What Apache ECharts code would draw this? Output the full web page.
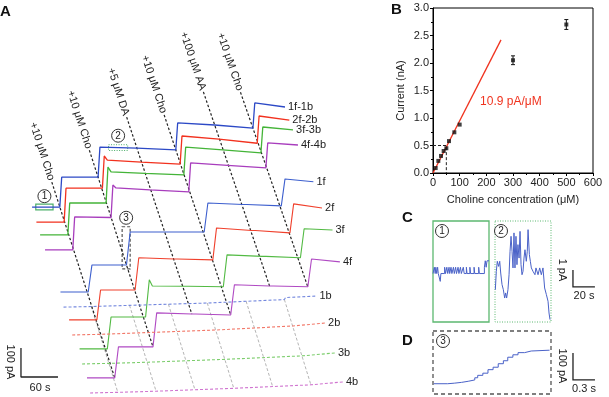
<!DOCTYPE html>
<html>
<head>
<meta charset="utf-8">
<script src="https://cdn.jsdelivr.net/npm/echarts@6.0.0/dist/echarts.min.js"></script>
<style>
html, body { margin: 0; padding: 0; background: #fff; }
#chart { width: 609px; height: 397px; }
</style>
</head>
<body>
<div id="chart"></div>
<script>
// ---------- panel A : waterfall of amperometric traces ----------
const addTimes = [0, 62, 125, 188, 251, 313] // s, relative to first addition
const addLabels = ['+10 μM Cho', '+10 μM Cho', '+5 μM DA', '+10 μM Cho', '+100 μM AA', '+10 μM Cho']
const traceStart = -45
const traceEnd = 365
const traceNames = ['1f-1b', '2f-2b', '3f-3b', '4f-4b', '1f', '2f', '3f', '4f', '1b', '2b', '3b', '4b']
// waterfall offsets (s, pA)
const traceOffsetX = [97, 104, 110, 118, 143, 157, 174, 186, 148, 162, 178, 191]
const traceOffsetY = [655, 603, 559, 507, 362, 266, 166, 66, 310, 214, 114, 14]
// current (pA over baseline) at start / end of each segment between additions
const traceLevels = [
  [[0, 0], [103, 103], [207, 203], [203, 197], [290, 283], [283, 272], [359, 345]],
  [[0, 0], [117, 117], [214, 207], [207, 200], [297, 286], [286, 272], [366, 352]],
  [[0, 0], [110, 110], [217, 212], [212, 207], [303, 293], [293, 283], [372, 362]],
  [[0, 0], [114, 112], [214, 207], [207, 200], [300, 292], [292, 283], [369, 362]],
  [[0, 0], [93, 93], [207, 207], [207, 207], [307, 302], [302, 297], [390, 380]],
  [[0, 0], [103, 103], [214, 210], [210, 207], [317, 308], [308, 300], [400, 386]],
  [[0, 0], [110, 110], [217, 216], [216, 214], [324, 319], [319, 314], [414, 410]],
  [[0, 0], [107, 107], [224, 220], [220, 217], [321, 317], [317, 314], [410, 400]],
  [[0, 2], [4, 6], [8, 10], [12, 14], [17, 20], [23, 26], [33, 38]],
  [[0, 2], [5, 7], [9, 12], [14, 17], [20, 24], [27, 31], [36, 41]],
  [[0, 2], [4, 6], [8, 11], [13, 16], [19, 22], [25, 28], [34, 38]],
  [[0, 2], [4, 6], [8, 11], [13, 16], [19, 22], [25, 28], [34, 38]]
]
// overshoot right after the second choline addition
const traceSpikes = [null, 228, 234, 224, null, null, 238, null, null, null, null, null]
const scaleBarA = [60, 100] // s, pA

// ---------- panel B : calibration ----------
const cholineConc = [10, 20, 30, 40, 50, 60, 80, 100, 300, 500]
const cholineCurrent = [0.09, 0.22, 0.31, 0.40, 0.45, 0.58, 0.74, 0.88, 2.05, 2.70]
const currentErr = [0, 0, 0, 0, 0, 0, 0, 0, 0.08, 0.09]
const fitConc = [0, 255]
const fitCurrent = [0, 2.42]

// ---------- panel C : zoomed baseline noise ----------
const c1Time = [0, 1.2, 2.0, 2.6, 3.4, 4.2, 4.8, 6.6, 7.2, 10.6, 11.4, 12.6, 13.4, 14.6, 15.2, 16.4, 17.2, 18.6, 19.4, 20.6, 21.4, 22.8, 23.6, 25.0, 25.8, 27.6, 28.4, 30.4, 31.0, 33.6, 34.2, 37.4, 38.0, 41.6, 42.2, 46.8, 47.6, 48.4, 49.2, 51]
const c1Current = [2.85, 3.22, 2.85, 3.22, 2.85, 3.22, 2.85, 2.39, 2.85, 3.22, 2.85, 3.22, 2.85, 3.22, 2.85, 3.22, 2.85, 3.22, 2.85, 3.22, 2.85, 3.22, 2.85, 3.22, 2.85, 3.22, 2.85, 3.22, 2.85, 3.22, 2.85, 3.22, 2.85, 3.22, 2.85, 3.22, 3.60, 3.22, 3.60, 3.60]
const c2Time = [0.3, 1.2, 2.1, 3.3, 4.3, 5.2, 6.4, 7.6, 8.8, 9.7, 10.6, 11.8, 12.8, 13.7, 14.6, 15.5, 16.4, 17.3, 18.2, 19.1, 20.0, 20.9, 21.9, 22.8, 23.7, 24.6, 25.5, 26.4, 27.3, 28.5, 29.4, 30.1, 31.3, 32.2, 33.1, 34.6, 35.5, 36.4, 37.3, 39.2, 40.7, 42.2, 43.7, 45.2, 46.8, 48.3, 49.2, 50.1]
const c2Current = [1.90, 2.98, 3.57, 3.27, 3.57, 2.88, 2.20, 1.90, 1.41, 1.71, 1.41, 1.90, 2.78, 4.16, 5.04, 4.16, 3.18, 5.24, 3.18, 5.04, 3.37, 4.55, 3.76, 5.33, 3.37, 2.78, 2.98, 3.76, 4.25, 3.57, 4.16, 5.43, 3.96, 3.57, 3.18, 2.98, 3.08, 2.78, 3.18, 2.78, 3.18, 2.78, 3.18, 2.00, 1.61, 1.22, 0.53, 0.14]
const scaleBarC = [20, 1] // s, pA

// ---------- panel D : zoomed step ----------
const dTime = [0.01, 0.20, 0.29, 0.39, 0.48, 0.57, 0.61, 0.68, 0.75, 0.82, 0.89, 0.96, 1.02, 1.09, 1.16, 1.25, 1.34, 1.59]
const dCurrent = [38, 40, 43, 47, 52, 60, 69, 77, 90, 99, 112, 123, 136, 145, 153, 159, 162, 162]
const scaleBarD = [0.3, 100] // s, pA

const FONT = '"Liberation Sans", Arial, sans-serif'
const traceColors = ['#2c49c6', '#f2311e', '#44b438', '#a83dbd', '#3d5fce', '#f0402c', '#52ba43', '#b04ac3', '#7488de', '#f2796a', '#7ccd6c', '#d075d0']
const lineExtend = [86, 93, 107, 121, 114, 124] // pA above 1f-1b where each addition line starts

const chart = echarts.init(document.getElementById('chart'))
const bounds = [traceStart, ...addTimes, traceEnd]

const buildTrace = (k) => {
  const ox = traceOffsetX[k]
  const oy = traceOffsetY[k]
  const rise = k >= 4 && k < 8 ? 6 : (k >= 8 ? 2 : 3)
  const pts = []
  traceLevels[k].forEach(([a, b], j) => {
    const t0 = j === 0 ? bounds[0] : bounds[j] + rise
    if (j === 2 && traceSpikes[k] != null) {
      pts.push([ox + t0, oy + traceSpikes[k]])
      pts.push([ox + t0 + 5, oy + a])
    } else {
      pts.push([ox + t0, oy + a])
    }
    pts.push([ox + bounds[j + 1], oy + b])
  })
  return pts
}

const hidden = { show: false }
const grids = [
  { left: 0, top: 0, width: 380, height: 397 },
  { left: 433, top: 8, width: 160, height: 165, show: true, borderColor: '#000', borderWidth: 1 },
  { left: 433, top: 221, width: 56, height: 101 },
  { left: 495, top: 221, width: 56, height: 101 },
  { left: 433, top: 331, width: 118, height: 63 }
].map(g => ({ containLabel: false, outerBoundsMode: 'none', ...g }))

const axisText = { color: '#222', fontSize: 11, fontFamily: FONT }
const bAxis = {
  type: 'value',
  nameLocation: 'middle',
  nameTextStyle: axisText,
  axisLine: { show: true, lineStyle: { color: '#000', width: 1 } },
  axisTick: { show: true, length: 3, lineStyle: { color: '#000' } },
  minorTick: { show: true, splitNumber: 2, length: 2, lineStyle: { color: '#000' } },
  axisLabel: { ...axisText, margin: 4 },
  splitLine: { show: false }
}

const series = []

traceNames.forEach((name, k) => {
  series.push({
    type: 'line', name, xAxisIndex: 0, yAxisIndex: 0,
    data: buildTrace(k), symbol: 'none', silent: true, z: 3,
    lineStyle: { color: traceColors[k], width: k < 4 ? 1.3 : 1.1, type: k >= 8 ? [3, 2] : 'solid' },
    endLabel: { show: true, formatter: name, distance: 3, ...axisText }
  })
})

// addition markers through the f / f-b traces
addTimes.forEach((t, i) => {
  const top = [traceOffsetX[0] + t, traceOffsetY[0] + traceLevels[0][i][1]]
  const bot = [traceOffsetX[7] + t, traceOffsetY[7] + traceLevels[7][i][1]]
  const f = lineExtend[i] / (top[1] - bot[1])
  const start = [top[0] + (top[0] - bot[0]) * f, top[1] + lineExtend[i]]
  series.push({
    type: 'line', xAxisIndex: 0, yAxisIndex: 0, data: [start, bot],
    symbol: 'none', silent: true, z: 2,
    lineStyle: { color: '#222', width: 1.2, type: [2.5, 2] }
  })
  // same marker across the background traces
  series.push({
    type: 'line', xAxisIndex: 0, yAxisIndex: 0, symbol: 'none', silent: true, z: 1,
    data: [
      [traceOffsetX[8] + t, traceOffsetY[8] + traceLevels[8][i][1]],
      [traceOffsetX[11] + t, traceOffsetY[11] + traceLevels[11][i][1]]
    ],
    lineStyle: { color: '#b5b5b5', width: 1, type: [3, 2] }
  })
})

// scale bar A
series.push({
  type: 'line', xAxisIndex: 0, yAxisIndex: 0, symbol: 'none', silent: true,
  data: [[34, 69 + scaleBarA[1]], [34, 69], [34 + scaleBarA[0], 69]],
  lineStyle: { color: '#222', width: 1.3 }
})

// panel B
series.push({
  type: 'line', xAxisIndex: 1, yAxisIndex: 1, symbol: 'none', silent: true,
  data: fitConc.map((c, i) => [c, fitCurrent[i]]),
  lineStyle: { color: '#f0331f', width: 1.3 }
})
series.push({
  type: 'line', xAxisIndex: 1, yAxisIndex: 1, symbol: 'none', silent: true,
  data: [[0, 0.5], [50, 0.5], [50, 0]],
  lineStyle: { color: '#222', width: 1, type: [3, 2] }
})
series.push({
  type: 'custom', xAxisIndex: 1, yAxisIndex: 1, silent: true,
  data: cholineConc.map((c, i) => [c, cholineCurrent[i] - currentErr[i], cholineCurrent[i] + currentErr[i]]).filter(d => d[2] > d[1]),
  renderItem: (params, api) => {
    const lo = api.coord([api.value(0), api.value(1)])
    const hi = api.coord([api.value(0), api.value(2)])
    const st = { stroke: '#111', lineWidth: 1 }
    return {
      type: 'group',
      children: [
        { type: 'line', shape: { x1: lo[0], y1: lo[1], x2: hi[0], y2: hi[1] }, style: st },
        { type: 'line', shape: { x1: lo[0] - 2, y1: lo[1], x2: lo[0] + 2, y2: lo[1] }, style: st },
        { type: 'line', shape: { x1: hi[0] - 2, y1: hi[1], x2: hi[0] + 2, y2: hi[1] }, style: st }
      ]
    }
  }
})
series.push({
  type: 'scatter', xAxisIndex: 1, yAxisIndex: 1, silent: true,
  data: cholineConc.map((c, i) => [c, cholineCurrent[i]]),
  symbol: 'rect', symbolSize: 4, itemStyle: { color: '#111' }, z: 4
})

// panel C
series.push({
  type: 'line', xAxisIndex: 2, yAxisIndex: 2, symbol: 'none', silent: true, step: 'end',
  data: c1Time.map((t, i) => [t, c1Current[i]]),
  lineStyle: { color: '#4a62c8', width: 1 }
})
series.push({
  type: 'line', xAxisIndex: 3, yAxisIndex: 3, symbol: 'none', silent: true,
  data: c2Time.map((t, i) => [t, c2Current[i]]),
  lineStyle: { color: '#4a62c8', width: 1 }
})

// panel D
series.push({
  type: 'line', xAxisIndex: 4, yAxisIndex: 4, symbol: 'none', silent: true, step: 'end',
  data: dTime.map((t, i) => [t, dCurrent[i]]),
  lineStyle: { color: '#4a62c8', width: 1 }
})

chart.setOption({
  animation: false,
  backgroundColor: '#fff',
  grid: grids,
  xAxis: [
    { gridIndex: 0, type: 'value', min: 0, max: 616, ...hidden },
    { ...bAxis, gridIndex: 1, min: 0, max: 600, interval: 100, name: 'Choline concentration (μM)', nameGap: 21 },
    { gridIndex: 2, type: 'value', min: 0, max: 51, ...hidden },
    { gridIndex: 3, type: 'value', min: 0, max: 51, ...hidden },
    { gridIndex: 4, type: 'value', min: 0, max: 1.61, ...hidden }
  ],
  yAxis: [
    { gridIndex: 0, type: 'value', min: 0, max: 1369, ...hidden },
    { ...bAxis, gridIndex: 1, min: 0, max: 3, interval: 0.5, name: 'Current (nA)', nameGap: 27,
      axisLabel: { ...axisText, margin: 4, formatter: v => v.toFixed(1) } },
    { gridIndex: 2, type: 'value', min: 0, max: 5.94, ...hidden },
    { gridIndex: 3, type: 'value', min: 0, max: 5.94, ...hidden },
    { gridIndex: 4, type: 'value', min: 0, max: 233, ...hidden }
  ],
  series
})

// ---------- overlays placed from the data coordinates ----------
const px = (grid, p) => chart.convertToPixel({ gridIndex: grid }, p)
const g = []

const text = (t, x, y, extra = {}) => ({
  type: 'text', x, y, silent: true,
  style: { text: t, font: `11px ${FONT}`, fill: '#222', textAlign: 'center', textVerticalAlign: 'middle', ...extra.style },
  ...(extra.rotation != null ? { rotation: extra.rotation } : {})
})
const circled = (n, x, y) => ({
  type: 'group', x, y, silent: true,
  children: [
    { type: 'circle', shape: { cx: 0, cy: 0, r: 6.5 }, style: { fill: '#fff', stroke: '#333', lineWidth: 1 } },
    { type: 'text', x: 0, y: 0.5, style: { text: String(n), font: `10px ${FONT}`, fill: '#222', textAlign: 'center', textVerticalAlign: 'middle' } }
  ]
})
const rectFrom = (grid, p0, p1, style) => {
  const a = px(grid, p0)
  const b = px(grid, p1)
  return {
    type: 'rect', silent: true,
    shape: { x: Math.min(a[0], b[0]), y: Math.min(a[1], b[1]), width: Math.abs(b[0] - a[0]), height: Math.abs(b[1] - a[1]) },
    style: { fill: 'none', ...style }
  }
}
// L-shaped scale bar through a grid's scales
const scaleBar = (grid, origin, size) => ({
  type: 'polyline', silent: true,
  shape: { points: [px(grid, [origin[0], origin[1] + size[1]]), px(grid, origin), px(grid, [origin[0] + size[0], origin[1]])] },
  style: { stroke: '#222', lineWidth: 1.3, fill: 'none' }
})

// addition labels along the dashed markers
addTimes.forEach((t, i) => {
  const top = [traceOffsetX[0] + t, traceOffsetY[0] + traceLevels[0][i][1]]
  const bot = [traceOffsetX[7] + t, traceOffsetY[7] + traceLevels[7][i][1]]
  const f = lineExtend[i] / (top[1] - bot[1])
  const start = px(0, [top[0] + (top[0] - bot[0]) * f, top[1] + lineExtend[i]])
  const end = px(0, bot)
  const ang = Math.atan2(end[1] - start[1], end[0] - start[0])
  g.push({
    type: 'text', silent: true,
    x: start[0] - Math.cos(ang) * 2, y: start[1] - Math.sin(ang) * 2,
    rotation: -ang,
    style: { text: addLabels[i], font: `11px ${FONT}`, fill: '#222', textAlign: 'right', textVerticalAlign: 'middle' }
  })
})

// highlighted regions in A
const r1 = rectFrom(0, [traceOffsetX[0] - 39, traceOffsetY[0] - 10], [traceOffsetX[0] - 11, traceOffsetY[0] + 10], { stroke: '#4caf6a', lineWidth: 1.2 })
const r2 = rectFrom(0, [traceOffsetX[0] + 79, traceOffsetY[0] + 195], [traceOffsetX[0] + 110, traceOffsetY[0] + 215], { stroke: '#4caf6a', lineWidth: 1, lineDash: [1, 1.5] })
const r3 = rectFrom(0, [traceOffsetX[4] + 55, traceOffsetY[4] + 80], [traceOffsetX[4] + 68, traceOffsetY[4] + 225], { stroke: '#555', lineWidth: 1.2, lineDash: [3, 2] })
g.push(r1, r2, r3)
g.push(circled(1, r1.shape.x + r1.shape.width / 2, r1.shape.y - 8))
g.push(circled(2, r2.shape.x + r2.shape.width / 2, r2.shape.y - 9))
g.push(circled(3, r3.shape.x + r3.shape.width / 2, r3.shape.y - 9))

// boxes for C and D
g.push(rectFrom(2, [0, 0], [51, 5.94], { stroke: '#5cb870', lineWidth: 1.3 }))
g.push(rectFrom(3, [0, 0], [51, 5.94], { stroke: '#5cb870', lineWidth: 1, lineDash: [1, 1.5] }))
g.push(rectFrom(4, [0, 0], [1.61, 233], { stroke: '#555', lineWidth: 1.3, lineDash: [4, 3] }))
const c1 = px(2, [0, 5.94])
const c2 = px(3, [0, 5.94])
const d1 = px(4, [0, 233])
g.push(circled(1, c1[0] + 9, c1[1] + 10))
g.push(circled(2, c2[0] + 6, c2[1] + 10))
g.push(circled(3, d1[0] + 10, d1[1] + 10))

// scale bars for C and D (drawn in the units of their panels)
g.push(scaleBar(3, [71, 2.06], scaleBarC))
g.push(scaleBar(4, [1.91, 52], scaleBarD))

// panel letters
;[['A', 0, 12], ['B', 391, 10], ['C', 402, 218], ['D', 402, 341]].forEach(([t, x, y]) => {
  g.push({ type: 'text', x, y, silent: true, style: { text: t, font: `bold 15px ${FONT}`, fill: '#111', textAlign: 'left', textVerticalAlign: 'middle' } })
})

// scale bar texts and annotation
g.push(text('100 pA', 10, 362, { rotation: -Math.PI / 2 }))
g.push(text('60 s', 40, 388))
g.push(text('1 pA', 562, 270, { rotation: -Math.PI / 2 }))
g.push(text('20 s', 584, 296))
g.push(text('100 pA', 562, 366, { rotation: -Math.PI / 2 }))
g.push(text('0.3 s', 584, 389))
const fitLbl = px(1, [292, 1.29])
g.push(text('10.9 pA/μM', fitLbl[0], fitLbl[1], { style: { fill: '#f0331f', font: `12px ${FONT}` } }))

chart.setOption({ graphic: g })

window.addEventListener('resize', () => chart.resize())
</script>
</body>
</html>
